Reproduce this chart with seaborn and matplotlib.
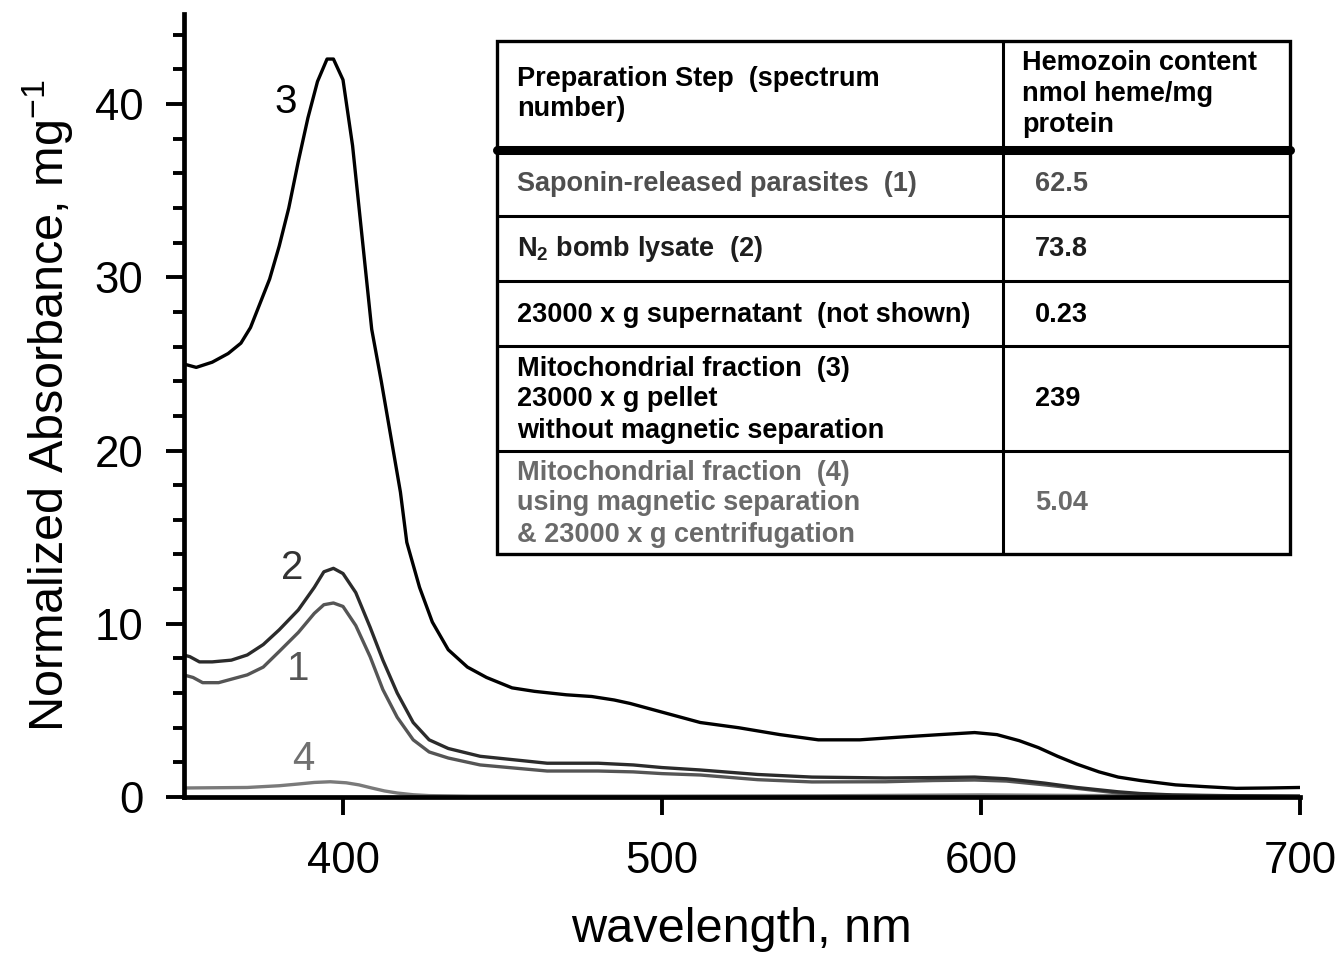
import matplotlib
matplotlib.use("Agg")
import matplotlib.pyplot as plt
from matplotlib.ticker import MultipleLocator
from matplotlib.lines import Line2D
from matplotlib.patches import Rectangle
import seaborn as sns

# spectrum 3 - mitochondrial fraction, no magnetic separation
wl_3 = [350, 354, 359, 364, 368, 371, 374, 377, 380, 383, 386, 389, 392, 395, 397,
        400, 403, 406, 409, 412, 418, 420, 424, 428, 433, 439, 445, 453, 460, 470,
        478, 485, 490, 500, 512, 524, 537, 549, 562, 574, 587, 598, 605, 612, 618,
        624, 630, 637, 643, 650, 661, 670, 680, 690, 700]
abs_3 = [25.0, 24.8, 25.1, 25.6, 26.2, 27.1, 28.5, 29.9, 31.8, 34.0, 36.7, 39.2, 41.3, 42.6, 42.6,
         41.4, 37.6, 32.3, 27.0, 24.0, 17.6, 14.7, 12.1, 10.1, 8.5, 7.5, 6.9, 6.3, 6.1, 5.9,
         5.8, 5.6, 5.4, 4.9, 4.3, 4.0, 3.6, 3.3, 3.3, 3.45, 3.6, 3.72, 3.6, 3.25, 2.85,
         2.35, 1.9, 1.45, 1.15, 0.95, 0.7, 0.6, 0.5, 0.52, 0.55]

# spectrum 2 - N2 bomb lysate
wl_2 = [350, 352, 355, 359, 365, 370, 375, 380, 386, 391, 394, 397, 400, 404, 408.5,
        412.5, 417, 422, 427, 433, 443, 464, 480, 491, 500, 512, 530, 547, 570, 585,
        598, 608, 620, 630, 643, 650, 660, 680, 700]
abs_2 = [8.2, 8.1, 7.8, 7.8, 7.9, 8.2, 8.8, 9.65, 10.8, 12.1, 13.0, 13.2, 12.9, 11.8, 9.8,
         7.9, 6.0, 4.3, 3.3, 2.8, 2.35, 1.95, 1.95, 1.85, 1.7, 1.56, 1.3, 1.15, 1.1, 1.12,
         1.15, 1.05, 0.8, 0.55, 0.3, 0.2, 0.12, 0.07, 0.05]

# spectrum 1 - saponin-released parasites
wl_1 = [350, 353, 356, 361, 370, 375, 380, 386, 391, 394, 397, 400, 404, 408.5, 412.5,
        417, 422, 427, 433, 443, 464, 480, 491, 500, 512, 530, 547, 570, 585, 598,
        608, 620, 630, 643, 650, 660, 680, 700]
abs_1 = [7.05, 6.9, 6.6, 6.6, 7.05, 7.5, 8.4, 9.5, 10.6, 11.1, 11.2, 11.0, 9.9, 8.1, 6.2,
         4.6, 3.3, 2.6, 2.25, 1.85, 1.5, 1.5, 1.45, 1.35, 1.27, 1.0, 0.87, 0.88, 0.95, 0.98,
         0.92, 0.7, 0.5, 0.23, 0.17, 0.1, 0.05, 0.03]

# spectrum 4 - mitochondrial fraction with magnetic separation
wl_4 = [350, 370, 380, 386, 391, 396, 401, 405, 409, 413, 417, 422, 427, 440, 500,
        550, 600, 640, 700]
abs_4 = [0.52, 0.55, 0.65, 0.75, 0.84, 0.88, 0.82, 0.7, 0.52, 0.35, 0.23, 0.13, 0.08, 0.05, 0.05,
         0.07, 0.12, 0.08, 0.05]

x_ticks = [400, 500, 600, 700]
y_ticks = [0, 10, 20, 30, 40]

table_steps = ["Saponin-released parasites  (1)",
               "N$_2$ bomb lysate  (2)",
               "23000 x g supernatant  (not shown)",
               "Mitochondrial fraction  (3)\n23000 x g pellet\nwithout magnetic separation",
               "Mitochondrial fraction  (4)\nusing magnetic separation\n& 23000 x g centrifugation"]
table_values = ["62.5", "73.8", "0.23", "239", "5.04"]
table_colors = ["#4f4f4f", "#1e1e1e", "#000000", "#000000", "#6a6a6a"]

sns.set_style("ticks")
plt.rcParams['font.family'] = ['Liberation Sans', 'DejaVu Sans']
plt.rcParams['mathtext.default'] = 'regular'
plt.rcParams['text.color'] = 'black'
plt.rcParams['axes.labelcolor'] = 'black'
plt.rcParams['axes.edgecolor'] = 'black'
plt.rcParams['xtick.color'] = 'black'
plt.rcParams['ytick.color'] = 'black'

W, H = 1338, 957
fig = plt.figure(figsize=(W / 100, H / 100), dpi=100)
ax = fig.add_axes([183.5 / W, 1 - 797 / H, (1300 - 183.5) / W, (797 - 14) / H])

lw = 2.4
sns.lineplot(x=wl_4, y=abs_4, color="#7a7a7a", linewidth=lw, ax=ax, sort=False, estimator=None)
sns.lineplot(x=wl_1, y=abs_1, color="#555555", linewidth=lw, ax=ax, sort=False, estimator=None)
sns.lineplot(x=wl_2, y=abs_2, color="#2b2b2b", linewidth=lw, ax=ax, sort=False, estimator=None)
sns.lineplot(x=wl_3, y=abs_3, color="#000000", linewidth=lw, ax=ax, sort=False, estimator=None)

# curve numbers
ax.text(382, 40.1, "3", fontsize=29, color="#000000", ha="center", va="center")
ax.text(384, 13.2, "2", fontsize=29, color="#333333", ha="center", va="center")
ax.text(386, 7.4, "1", fontsize=29, color="#555555", ha="center", va="center")
ax.text(387.5, 2.2, "4", fontsize=29, color="#707070", ha="center", va="center")

ax.set_xlim(350, 700)
ax.set_ylim(0, 45.2)
ax.set_xticks(x_ticks)
ax.set_yticks(y_ticks)
ax.yaxis.set_minor_locator(MultipleLocator(2))
ax.tick_params(which="major", length=13, width=2.8, labelsize=31.5, color="black")
ax.tick_params(axis="x", which="major", pad=19)
ax.tick_params(axis="y", which="major", pad=16)
ax.tick_params(which="minor", length=8, width=2.8)
sns.despine(ax=ax)
for s in ["left", "bottom"]:
    ax.spines[s].set_linewidth(3.4)
ax.set_xlabel("wavelength, nm", fontsize=35, labelpad=18)
ax.set_ylabel("Normalized Absorbance, mg$^{-1}$", fontsize=35, labelpad=13)


# table drawn in figure pixel coordinates
def fx(px):
    return px / W


def fy(py):
    return 1 - py / H


left, right, top, bottom, mid = 497, 1290, 41, 554, 1003
row_lines = [150, 216, 281, 346, 451, bottom]
fig.add_artist(Rectangle((fx(left), fy(bottom)), fx(right) - fx(left), fy(top) - fy(bottom),
                         transform=fig.transFigure, fill=False, edgecolor="black", linewidth=2.4))
fig.add_artist(Line2D([fx(mid), fx(mid)], [fy(top), fy(bottom)], transform=fig.transFigure,
                      color="black", linewidth=2.2))
fig.add_artist(Line2D([fx(left), fx(right)], [fy(150), fy(150)], transform=fig.transFigure,
                      color="black", linewidth=6.5))
for yl in row_lines[1:-1]:
    fig.add_artist(Line2D([fx(left), fx(right)], [fy(yl), fy(yl)], transform=fig.transFigure,
                          color="black", linewidth=2.2))

tfont = dict(fontsize=19.5, fontweight="bold", transform=fig.transFigure, va="center",
             ha="left", linespacing=1.25)
fig.text(fx(517), fy(94), "Preparation Step  (spectrum\nnumber)", color="black", **tfont)
fig.text(fx(1022), fy(94), "Hemozoin content\nnmol heme/mg\nprotein", color="black", **tfont)
row_tops = row_lines[:-1]
for i, (step, val, c) in enumerate(zip(table_steps, table_values, table_colors)):
    yc = (row_tops[i] + row_lines[i + 1]) / 2 + 1
    fig.text(fx(517), fy(yc), step, color=c, **tfont)
    fig.text(fx(1035), fy(yc), val, color=c, **tfont)

fig.savefig("out.png", dpi=100)
